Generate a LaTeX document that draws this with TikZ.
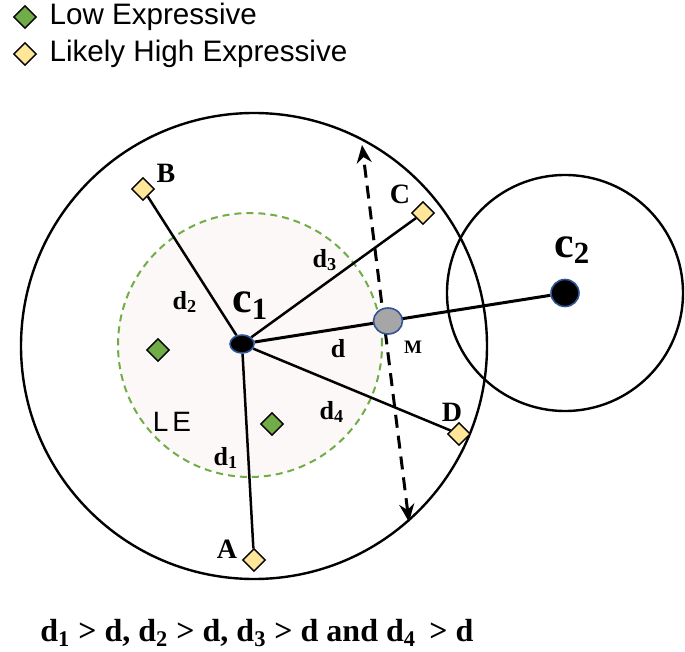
\documentclass[tikz,border=0pt]{standalone}
\usepackage{fontspec}
\setmainfont{Liberation Serif}
\setsansfont{Liberation Sans}
\usetikzlibrary{arrows.meta, shapes.geometric, positioning, calc}

\definecolor{lowgreen}{HTML}{70AD47}
\definecolor{highyellow}{HTML}{FFE699}
\definecolor{dotblue}{HTML}{2F5597}
\definecolor{lepink}{RGB}{253,248,248}
\definecolor{mgray}{HTML}{A6A6A6}

\pgfdeclarelayer{back}
\pgfsetlayers{back,main}

\tikzset{
  lowmark/.style={diamond, draw=black, fill=lowgreen, line width=0.7pt, inner sep=0pt, minimum width=11.5pt, minimum height=11.5pt},
  highmark/.style={lowmark, fill=highyellow},
  centre/.style={ellipse, draw=dotblue, line width=0.8pt, fill=black, inner sep=0pt},
  ptlabel/.style={inner sep=0pt, font=\bfseries\fontsize{14}{16}\selectfont},
  dlabel/.style={inner sep=0pt, font=\bfseries\fontsize{13}{15}\selectfont},
  keytext/.style={inner sep=0pt, anchor=west, font=\sffamily\fontsize{14.8}{17}\selectfont},
  link/.style={line width=1.25pt},
}

\begin{document}
\begin{tikzpicture}[x=0.5pt, y=-0.5pt, >={Stealth[length=9pt, width=7.5pt]}]
    \useasboundingbox (0,0) rectangle (685,652);

    % Legend
    \node[lowmark] (keylow) at (25,17) {};
    \node[keytext, right=6pt of keylow] (keylowtxt) {Low Expressive};
    \node[highmark] (keyhigh) at (25,54) {};
    \node[keytext, right=6pt of keyhigh] (keyhightxt) {Likely High Expressive};

    % Centres and midpoint
    \node[centre, minimum width=12pt, minimum height=9pt] (c1) at (242,344) {};
    \node[centre, fill=mgray, minimum width=14.5pt, minimum height=13pt] (M) at (388,321) {};
    \node[centre, minimum width=14pt, minimum height=13.5pt] (c2) at (565,293) {};

    % Samples
    \node[highmark] (A) at (254,560) {};
    \node[highmark] (B) at (143,189) {};
    \node[highmark] (C) at (423,213) {};
    \node[highmark] (D) at (459,434) {};
    \node[lowmark] (low1) at (158,350) {};
    \node[lowmark] (low2) at (272,424) {};

    % Ends of the moving boundary
    \coordinate (bndtop) at (362,145);
    \coordinate (bndbot) at (409,522);

    \begin{pgfonlayer}{back}
      % Clusters
      \draw[line width=1.2pt] (254,346) circle (116.5pt);
      \draw[lowgreen, line width=1pt, dash pattern=on 3.5pt off 2.5pt, fill=lepink] (250,345) circle (66pt);
      \draw[line width=1.2pt] (c2.center) circle (59pt);

      % Distances
      \draw[link] (c1) -- (A);
      \draw[link] (c1) -- (B);
      \draw[link] (c1) -- (C);
      \draw[link] (c1) -- (D);
      \draw[link, line width=1.5pt] (c1) -- (c2);

      % Boundary shift
      \draw[<->, line width=1.5pt, dash pattern=on 6.5pt off 4pt] (bndbot) -- (bndtop);
    \end{pgfonlayer}

    % Labels
    \node[ptlabel] (lblA) at (227,549) {A};
    \node[ptlabel] (lblB) at (166,173) {B};
    \node[ptlabel] (lblC) at (400,194) {C};
    \node[ptlabel] (lblD) at (452,412) {D};
    \node[inner sep=0pt, anchor=base west, font=\bfseries\fontsize{22}{24}\selectfont] (lblc1) at (232,313) {c\textsubscript{1}};
    \node[inner sep=0pt, anchor=base west, font=\bfseries\fontsize{22}{24}\selectfont] (lblc2) at (554,257) {c\textsubscript{2}};
    \node[inner sep=0pt, font=\bfseries\fontsize{9.5}{11}\selectfont] (lblM) at (413,347) {M};
    \node[dlabel] (lbld) at (338,349) {d};
    \node[dlabel] (lbld1) at (226,458) {d\textsubscript{1}};
    \node[dlabel] (lbld2) at (185,302) {d\textsubscript{2}};
    \node[dlabel] (lbld3) at (325,260) {d\textsubscript{3}};
    \node[dlabel] (lbld4) at (332,412) {d\textsubscript{4}};
    \node[inner sep=0pt, font=\sffamily\fontsize{14}{16}\selectfont] (lblLE) at (172,422) {L\kern2pt E};

    % Condition
    \node[inner sep=0pt, anchor=base west, font=\bfseries\fontsize{16}{18}\selectfont] (cond) at (40,641)
      {d\textsubscript{1} > d, d\textsubscript{2} > d, d\textsubscript{3} > d and d\textsubscript{4}\, > d};

\end{tikzpicture}
\end{document}
